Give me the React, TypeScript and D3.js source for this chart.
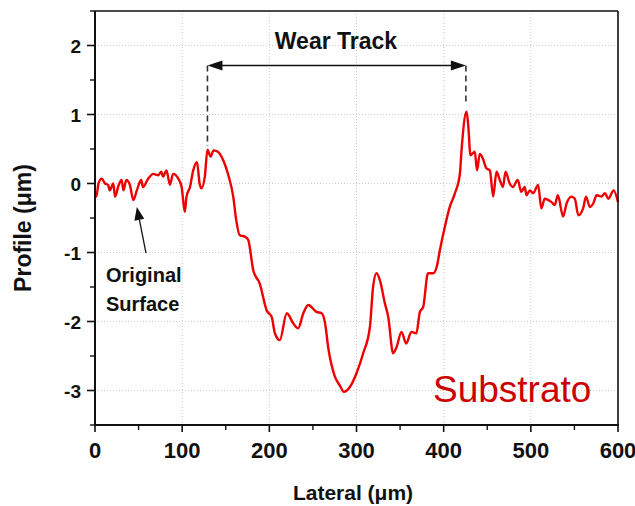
import React from "react";
import * as d3 from "d3";

const lateral: number[] = [0,1.5,4,7.7,11.5,15,17,21,23,27,30.6,32.5,36,40,44,48,53,55,61,67,72.6,76,78,82,86,89.5,95.5,99.4,103,105,109,112.7,117,120,122,126,129,132.7,136,141,147,153,158.6,162,166,172,175.8,181.6,189,197,202.6,206.4,212,220,227.6,233,239,244.7,254,260,264,267.6,275,281,285.6,292.4,300,307.7,315.4,319,323,326.8,332.6,336.4,342,346,351.6,357,363,368.7,372.7,376.5,382,388,392,395.6,401,407,413,418.6,420.5,426.2,428,430.8,435.7,438.3,441.4,445,449,453,456.8,460.6,464.4,468,471,475.7,479.4,485,489,493,495,499,502.6,508.4,512,516,523.7,527.5,531,537,541,546.6,550.5,554.4,560,563.3,567.7,571.6,575.5,581,585,589,595,600];
const profile: number[] = [-0.14,-0.19,0,0.07,0,-0.02,-0.1,0,-0.19,-0.03,0.05,-0.1,0.05,-0.02,-0.24,-0.1,0.05,-0.05,0.07,0.14,0.12,0.17,0.1,0.19,-0.02,0.14,0.07,-0.05,-0.41,-0.19,-0.05,0.19,0.31,0,-0.07,0.1,0.49,0.39,0.48,0.46,0.34,0.12,-0.19,-0.53,-0.75,-0.77,-0.82,-1.26,-1.45,-1.84,-1.93,-2.17,-2.27,-1.88,-2.03,-2.1,-1.88,-1.76,-1.86,-1.88,-2.03,-2.38,-2.79,-2.93,-3.02,-2.95,-2.75,-2.46,-2.08,-1.5,-1.3,-1.4,-1.74,-1.93,-2.46,-2.37,-2.15,-2.32,-2.15,-2.17,-1.86,-1.79,-1.3,-1.3,-1.21,-0.97,-0.65,-0.34,-0.14,0.14,0.48,1.04,0.87,0.41,0.46,0.19,0.43,0.36,0.22,0.19,-0.19,0.17,0.05,-0.05,0.17,0,-0.05,0.05,-0.12,-0.05,-0.17,-0.1,-0.14,-0.02,-0.36,-0.22,-0.27,-0.31,-0.17,-0.48,-0.29,-0.19,-0.22,-0.46,-0.36,-0.19,-0.34,-0.29,-0.17,-0.19,-0.14,-0.22,-0.1,-0.27];

const xTicks: number[] = [0, 100, 200, 300, 400, 500, 600];
const xMinor: number[] = [50, 150, 250, 350, 450, 550];
const yTicks: number[] = [-3, -2, -1, 0, 1, 2];
const yMinor: number[] = [-3.5, -2.5, -1.5, -0.5, 0.5, 1.5, 2.5];

const trackStart = 129;
const trackEnd = 425.5;
const trackLevel = 1.71;
const trackStartPeak = 0.5;
const trackEndPeak = 1.1;
const surfaceArrowFrom: [number, number] = [58.5, -1.01];
const surfaceArrowTo: [number, number] = [48, -0.34];

const W = 635;
const H = 506;
const L = 95, R = 618, T = 11, B = 425;

export default function App() {
  const x = d3.scaleLinear().domain([0, 600]).range([L, R]);
  const y = d3.scaleLinear().domain([-3.5, 2.5]).range([B, T]);
  const pts: [number, number][] = lateral.map((v, i) => [v, profile[i]]);
  const line = d3.line<[number, number]>().x(d => x(d[0])).y(d => y(d[1])).curve(d3.curveMonotoneX);

  const font = "Arial, 'Liberation Sans', sans-serif";
  const ay = y(trackLevel);
  const x1 = x(trackStart), x2 = x(trackEnd);
  const ah = 15, aw = 5;

  const [fx, fy] = [x(surfaceArrowFrom[0]), y(surfaceArrowFrom[1])];
  const [tx, ty] = [x(surfaceArrowTo[0]), y(surfaceArrowTo[1])];
  const ang = Math.atan2(ty - fy, tx - fx);
  const sah = 13, saw = 5;
  const bx = tx - sah * Math.cos(ang), by = ty - sah * Math.sin(ang);
  const px = -Math.sin(ang), py = Math.cos(ang);

  return (
    <svg width={W} height={H} style={{ position: "absolute", left: 0, top: 0, background: "#fff" }}>
      <rect x={0} y={0} width={W} height={H} fill="#fff" />
      {/* grid */}
      {xTicks.filter(t => t > 0 && t < 600).map(t => (
        <line key={"gx" + t} x1={x(t)} x2={x(t)} y1={T} y2={B} stroke="#cccccc" strokeWidth={1} strokeDasharray="1,2" />
      ))}
      {yTicks.map(t => (
        <line key={"gy" + t} x1={L} x2={R} y1={y(t)} y2={y(t)} stroke="#cccccc" strokeWidth={1} strokeDasharray="1,2" />
      ))}
      {/* data */}
      <path d={line(pts) || ""} fill="none" stroke="#ee0000" strokeWidth={2.4} strokeLinejoin="round" />
      {/* frame */}
      <line x1={L} x2={R} y1={T} y2={T} stroke="#111" strokeWidth={1.6} />
      <line x1={R} x2={R} y1={T} y2={B} stroke="#111" strokeWidth={1.6} />
      <line x1={L} x2={L} y1={T} y2={B + 1} stroke="#111" strokeWidth={2} />
      <line x1={L - 1} x2={R + 1} y1={B} y2={B} stroke="#111" strokeWidth={2} />
      {/* x ticks */}
      {xTicks.map(t => (
        <g key={"xt" + t}>
          <line x1={x(t)} x2={x(t)} y1={B} y2={B + 7} stroke="#111" strokeWidth={1.6} />
          <text x={x(t)} y={458} textAnchor="middle" fontFamily={font} fontWeight="bold" fontSize={22} fill="#111">{t}</text>
        </g>
      ))}
      {xMinor.map(t => (
        <line key={"xm" + t} x1={x(t)} x2={x(t)} y1={B} y2={B + 5} stroke="#111" strokeWidth={1.4} />
      ))}
      {/* y ticks */}
      {yTicks.map(t => (
        <g key={"yt" + t}>
          <line x1={L} x2={L - 8} y1={y(t)} y2={y(t)} stroke="#111" strokeWidth={1.6} />
          <text x={81} y={y(t) + 7} textAnchor="end" fontFamily={font} fontWeight="bold" fontSize={19} fill="#111">{t}</text>
        </g>
      ))}
      {yMinor.map(t => (
        <line key={"ym" + t} x1={L} x2={L - 5} y1={y(t)} y2={y(t)} stroke="#111" strokeWidth={1.4} />
      ))}
      {/* axis titles */}
      <text x={353} y={500} textAnchor="middle" fontFamily={font} fontWeight="bold" fontSize={21} fill="#111">Lateral (μm)</text>
      <text transform={`translate(31,228) rotate(-90)`} textAnchor="middle" fontFamily={font} fontWeight="bold" fontSize={23} fill="#111">Profile (μm)</text>
      {/* wear track annotation */}
      <text x={336} y={49} textAnchor="middle" fontFamily={font} fontWeight="bold" fontSize={23} fill="#111">Wear Track</text>
      <line x1={x1 + ah - 1} x2={x2 - ah + 1} y1={ay} y2={ay} stroke="#111" strokeWidth={1.6} />
      <path d={`M${x1},${ay} L${x1 + ah},${ay - aw} L${x1 + ah},${ay + aw} Z`} fill="#111" />
      <path d={`M${x2},${ay} L${x2 - ah},${ay - aw} L${x2 - ah},${ay + aw} Z`} fill="#111" />
      <line x1={x1} x2={x1} y1={ay} y2={y(trackStartPeak) - 3} stroke="#333" strokeWidth={1.6} strokeDasharray="6,4" />
      <line x1={x2} x2={x2} y1={ay} y2={y(trackEndPeak) - 4} stroke="#333" strokeWidth={1.6} strokeDasharray="6,4" />
      {/* original surface annotation */}
      <line x1={fx} y1={fy} x2={bx} y2={by} stroke="#111" strokeWidth={1.3} />
      <path d={`M${tx},${ty} L${bx + px * saw},${by + py * saw} L${bx - px * saw},${by - py * saw} Z`} fill="#111" />
      <text x={106} y={282} fontFamily={font} fontWeight="bold" fontSize={20} fill="#111">Original</text>
      <text x={106} y={311} fontFamily={font} fontWeight="bold" fontSize={20} fill="#111">Surface</text>
      {/* Substrato */}
      <text x={433} y={402} fontFamily={font} fontSize={37} fill="#cc0000">Substrato</text>
    </svg>
  );
}
